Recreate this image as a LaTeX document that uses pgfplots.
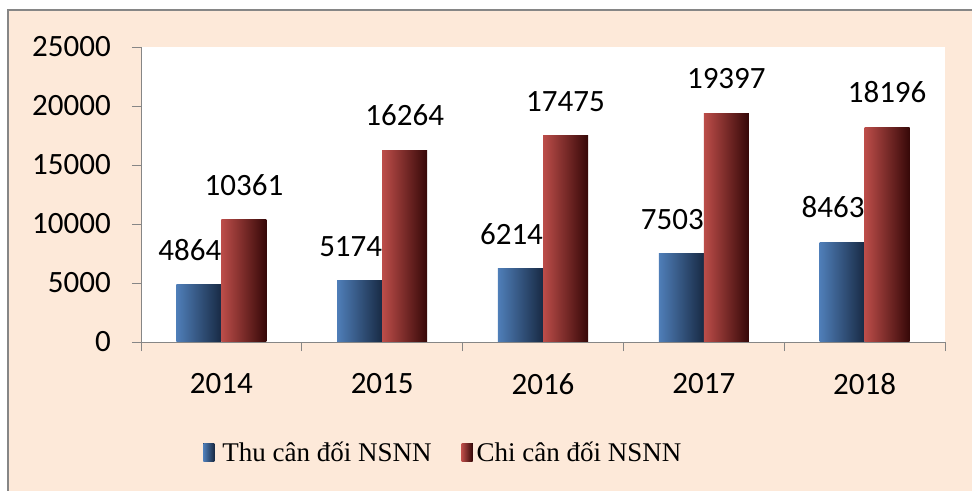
\documentclass[border=0pt]{standalone}
\usepackage{fontspec}
\setmainfont{Liberation Serif}
\newfontfamily\calib{Carlito}
\usepackage{pgfplots}
\pgfplotsset{compat=1.18}
\definecolor{peach}{HTML}{FDE9D9}
\definecolor{axgray}{HTML}{868686}
\definecolor{bL}{HTML}{4F7EB8}
\definecolor{bM}{HTML}{6E9AD2}
\definecolor{bR}{HTML}{182A44}
\definecolor{rL}{HTML}{BC4D49}
\definecolor{rM}{HTML}{D6645F}
\definecolor{rR}{HTML}{360808}
\pgfplotsset{
  blue bar/.style={draw=none, left color=bL, middle color=bM, right color=bR, bar shift=-0.14,
    every node near coord/.append style={xshift=-9bp}},
  red bar/.style={draw=none, left color=rL, middle color=rM, right color=rR, bar shift=0.14},
}
\begin{document}
\begin{tikzpicture}
\useasboundingbox (0,0) rectangle (972bp,491bp);
\fill[white] (0,0) rectangle (972bp,491bp);
\fill[peach] (8bp,0) rectangle (972bp,481bp);
\draw[axgray, line width=2bp] (8bp,0) -- (8bp,481bp) -- (972bp,481bp);
\begin{axis}[
  at={(141bp,149bp)}, anchor=south west,
  scale only axis, width=804bp, height=295bp,
  axis background/.style={fill=white},
  xmin=-0.5, xmax=4.5, ymin=0, ymax=25000,
  axis x line=bottom, axis y line=left,
  axis line style={-, draw=axgray, line width=0.8bp},
  tick style={draw=axgray, line width=0.8bp},
  tick align=outside, major tick length=9bp,
  ytick={0,5000,10000,15000,20000,25000},
  scaled y ticks=false,
  /pgf/number format/1000 sep={},
  /pgf/number format/assume math mode=true,
  yticklabel style={font=\calib\fontsize{31bp}{32bp}\selectfont, inner sep=0pt, anchor=east, xshift=-21bp},
  xtick={-0.5,0.5,1.5,2.5,3.5,4.5},
  xticklabels={},
  extra x ticks={0,1,2,3,4},
  extra x tick labels={2014,2015,2016,2017,2018},
  extra x tick style={major tick length=0pt, xticklabel style={font=\calib\fontsize{31bp}{32bp}\selectfont, inner sep=0pt, anchor=north, yshift=-31bp}},
  ybar=0pt, bar width=0.28,
  nodes near coords,
  every node near coord/.append style={font=\calib\fontsize{31bp}{32bp}\selectfont, inner sep=0pt, anchor=south, yshift=24bp, text=black},
  legend columns=2,
  legend style={at={(axis description cs:0.376,-0.373)}, anchor=center, draw=none, fill=none,
    font=\fontsize{27bp}{28bp}\selectfont, /tikz/every even column/.append style={column sep=28bp}},
]
\addplot[blue bar,
  legend image code/.code={\fill[left color=bL, middle color=bM, right color=bR] (0bp,-9bp) rectangle (11bp,9bp);}]
  coordinates {(0,4864)};
\addlegendentry{\hspace{6bp}Thu cân đối NSNN}
\addplot[red bar,
  legend image code/.code={\fill[left color=rL, middle color=rM, right color=rR] (0bp,-9bp) rectangle (11bp,9bp);}]
  coordinates {(0,10361)};
\addlegendentry{\hspace{2bp}Chi cân đối NSNN}
\addplot[blue bar, forget plot] coordinates {(1,5174)};
\addplot[blue bar, forget plot] coordinates {(2,6214)};
\addplot[blue bar, forget plot] coordinates {(3,7503)};
\addplot[blue bar, forget plot] coordinates {(4,8463)};
\addplot[red bar, forget plot] coordinates {(1,16264)};
\addplot[red bar, forget plot] coordinates {(2,17475)};
\addplot[red bar, forget plot] coordinates {(3,19397)};
\addplot[red bar, forget plot] coordinates {(4,18196)};
\end{axis}
\end{tikzpicture}
\end{document}
